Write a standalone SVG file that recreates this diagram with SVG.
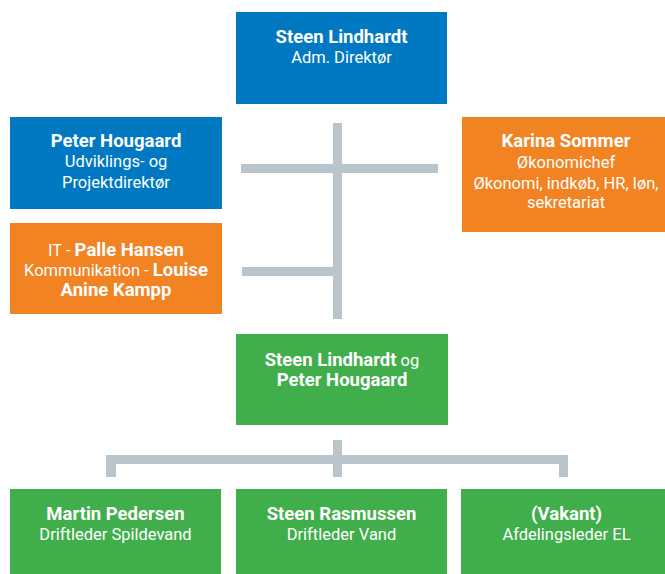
<svg xmlns="http://www.w3.org/2000/svg" width="665" height="574" viewBox="0 0 665 574">
<style>
.blue{fill:#0079C2}
.orange{fill:#F28323}
.green{fill:#40AE4B}
.bar{fill:#BAC4CB}
text{font-family:Roboto,"Liberation Sans",sans-serif;font-size:16.5px;fill:#fff;text-anchor:middle}
.b{font-weight:bold;font-size:18.5px}
</style>
<rect width="665" height="574" fill="#fff"/>
<g id="connectors">
<rect class="bar" x="333" y="123" width="9" height="196"/>
<rect class="bar" x="241" y="164" width="197" height="9"/>
<rect class="bar" x="242" y="267" width="95" height="9"/>
<rect class="bar" x="333" y="440" width="9" height="37"/>
<rect class="bar" x="106" y="455" width="462" height="9"/>
<rect class="bar" x="106" y="455" width="10" height="22"/>
<rect class="bar" x="559" y="455" width="9" height="22"/>
</g>
<g id="adm">
<rect class="blue" x="236" y="12" width="211" height="92"/>
<text x="341.5" y="43"><tspan class="b">Steen Lindhardt</tspan></text>
<text x="341.5" y="63">Adm. Direktør</text>
</g>
<g id="peter">
<rect class="blue" x="10" y="117" width="212" height="92"/>
<text x="116" y="147" class="b">Peter Hougaard</text>
<text x="116" y="167">Udviklings- og</text>
<text x="116" y="188">Projektdirektør</text>
</g>
<g id="it">
<rect class="orange" x="10" y="223" width="212" height="91"/>
<text x="116" y="256">IT - <tspan class="b">Palle Hansen</tspan></text>
<text x="116" y="276">Kommunikation - <tspan class="b">Louise</tspan></text>
<text x="116" y="296" class="b">Anine Kampp</text>
</g>
<g id="karina">
<rect class="orange" x="462" y="117" width="210" height="115"/>
<text x="566" y="147" class="b">Karina Sommer</text>
<text x="566" y="168">Økonomichef</text>
<text x="566" y="189">Økonomi, indkøb, HR, løn,</text>
<text x="566" y="208">sekretariat</text>
</g>
<g id="drift">
<rect class="green" x="236" y="334" width="212" height="91"/>
<text x="342" y="366"><tspan class="b">Steen Lindhardt</tspan> og</text>
<text x="342" y="386" class="b">Peter Hougaard</text>
</g>
<g id="martin">
<rect class="green" x="10" y="489" width="211" height="85"/>
<text x="115.5" y="520" class="b">Martin Pedersen</text>
<text x="115.5" y="540">Driftleder Spildevand</text>
</g>
<g id="rasmussen">
<rect class="green" x="236" y="489" width="211" height="85"/>
<text x="341.5" y="520" class="b">Steen Rasmussen</text>
<text x="341.5" y="540">Driftleder Vand</text>
</g>
<g id="vakant">
<rect class="green" x="461" y="489" width="211" height="85"/>
<text x="566.5" y="520" class="b">(Vakant)</text>
<text x="566.5" y="540">Afdelingsleder EL</text>
</g>
</svg>
